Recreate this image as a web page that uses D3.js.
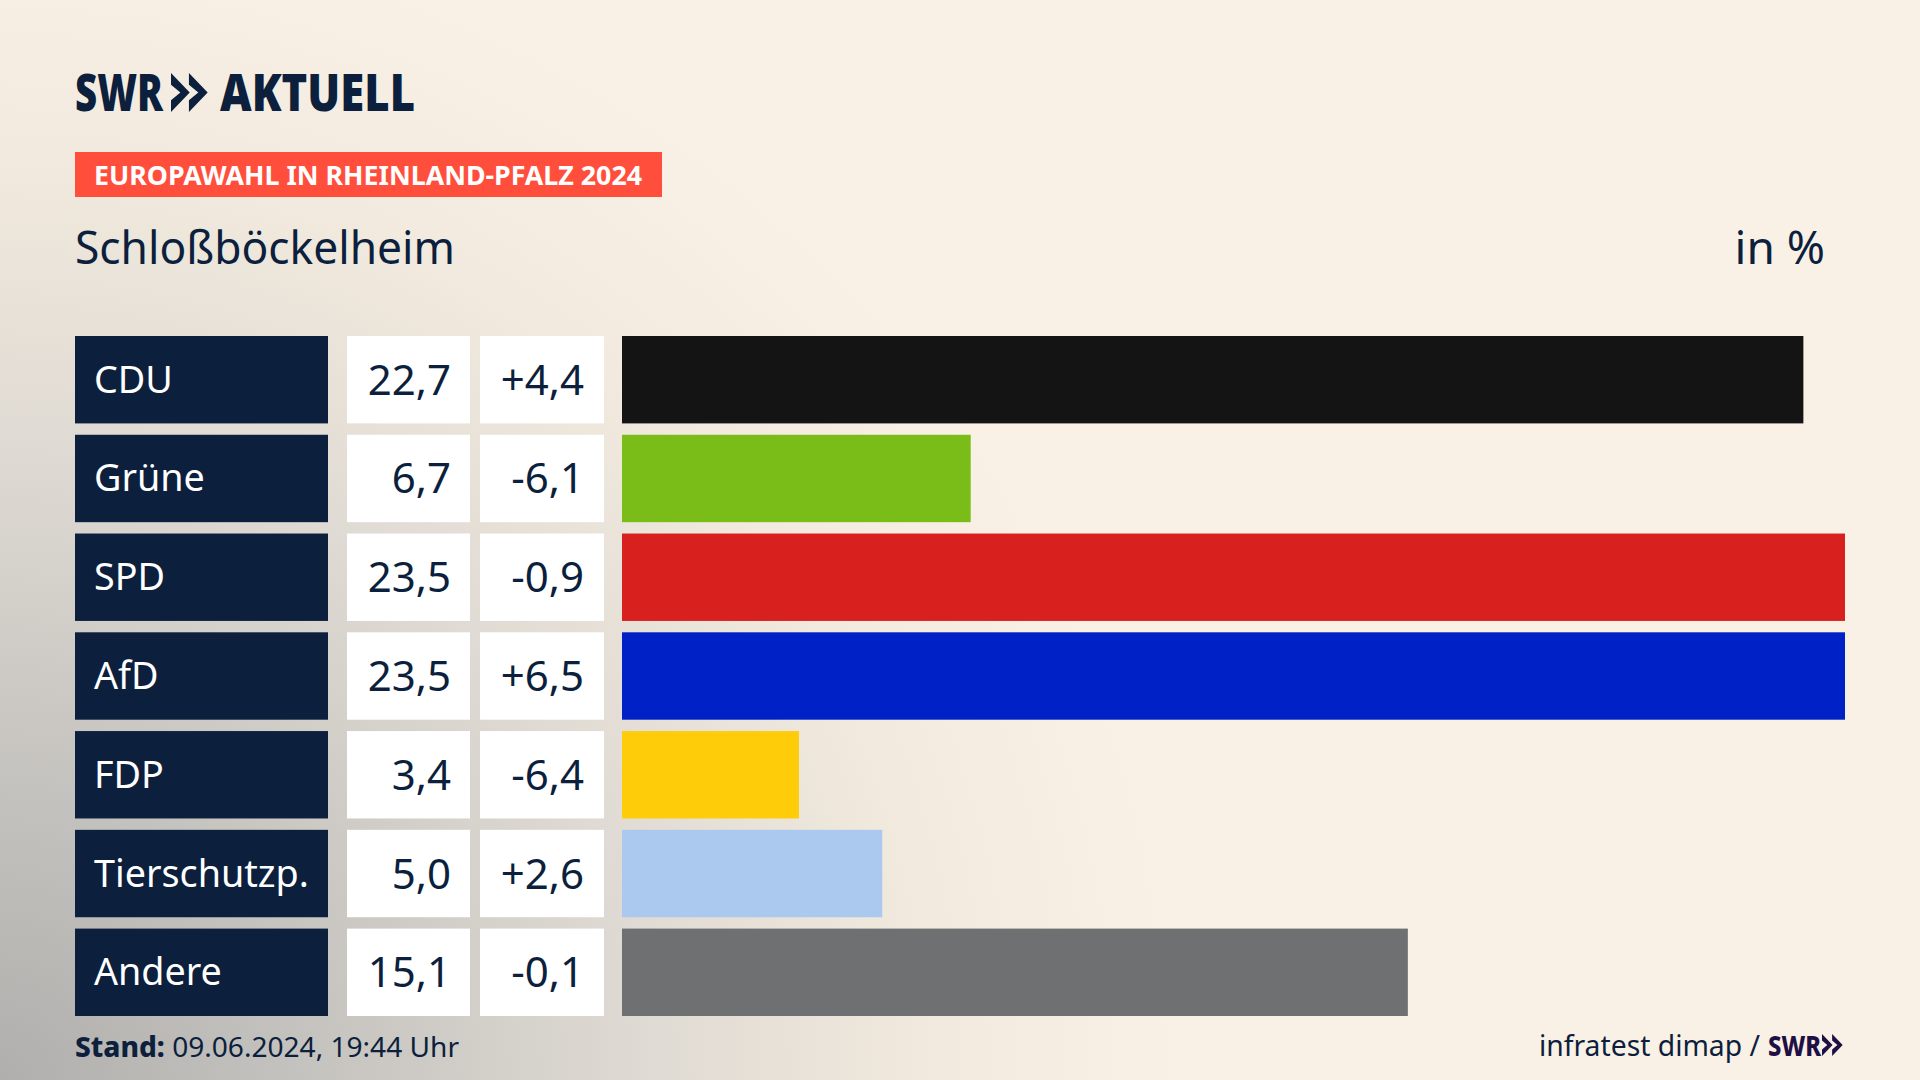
<!DOCTYPE html>
<html>
<head>
<meta charset="utf-8">
<script src="https://cdn.jsdelivr.net/npm/d3@7/dist/d3.min.js"></script>
<style>
  html, body { margin: 0; padding: 0; background: #faf1e6; }
  svg { display: block; }
  text { font-family: "Noto Sans", Lato, sans-serif; fill: #0c1f3d; }
</style>
</head>
<body>
<svg id="chart"></svg>
<script>
// Define data
const parties = ['CDU', 'Grüne', 'SPD', 'AfD', 'FDP', 'Tierschutzp.', 'Andere'];
const shares = [22.7, 6.7, 23.5, 23.5, 3.4, 5.0, 15.1];
const changes = [4.4, -6.1, -0.9, 6.5, -6.4, 2.6, -0.1];
const barColors = ['#141414', '#7abd19', '#d8201e', '#0021c6', '#ffcc09', '#abc8ee', '#6f7072'];

const width = 1920, height = 1080;
const navy = '#0c1f3d';

const svg = d3.select('#chart')
  .attr('width', width)
  .attr('height', height);

// Background with grey corner
const defs = svg.append('defs');
const grad = defs.append('radialGradient')
  .attr('id', 'bg')
  .attr('gradientUnits', 'userSpaceOnUse')
  .attr('cx', 0).attr('cy', 0).attr('r', 1)
  .attr('gradientTransform', 'translate(0,1080) scale(1180,1160)');
[[0, '#b0afad'], [0.25, '#c4c2be'], [0.55, '#dfdad3'], [0.8, '#f2eade'], [1, '#faf1e6']].forEach(s => {
  grad.append('stop').attr('offset', s[0]).attr('stop-color', s[1]);
});
svg.append('rect').attr('width', width).attr('height', height).attr('fill', '#faf1e6');
svg.append('rect').attr('width', width).attr('height', height).attr('fill', 'url(#bg)');

// Scales
const y = d3.scaleBand().domain(parties).range([336, 1016]).paddingInner(0.115);
const x = d3.scaleLinear().domain([0, 23.5]).range([622, 1845]);
const fmt = v => v.toFixed(1).replace('.', ',');
const fmtChange = v => (v > 0 ? '+' : '-') + fmt(Math.abs(v));

// Squeezes a text to the width it has in the picture
function fit(sel, w) {
  return sel.attr('textLength', w).attr('lengthAdjust', 'spacingAndGlyphs');
}

// Logo chevrons
function chevrons(x0, y0, h, color) {
  const w = h * 0.48;
  const step = h * 0.46;
  [0, step].forEach(dx => {
    svg.append('polygon')
      .attr('transform', `translate(${x0 + dx},${y0})`)
      .attr('points', [[0, 0], [w, h / 2], [0, h], [0, h * 0.7], [w * 0.5, h / 2], [0, h * 0.3]].join(' '))
      .attr('fill', color);
  });
}

// Header
fit(svg.append('text').attr('x', 75).attr('y', 111).attr('font-size', 52).attr('font-weight', 900).text('SWR'), 88);
chevrons(171, 73, 39, navy);
fit(svg.append('text').attr('x', 220).attr('y', 111).attr('font-size', 52).attr('font-weight', 900).text('AKTUELL'), 195);

svg.append('rect').attr('x', 75).attr('y', 152).attr('width', 587).attr('height', 45).attr('fill', '#ff4f3c');
fit(svg.append('text').attr('x', 94).attr('y', 185).attr('font-size', 27).attr('font-weight', 700)
  .style('fill', '#fff').text('EUROPAWAHL IN RHEINLAND-PFALZ 2024'), 548);

fit(svg.append('text').attr('x', 75).attr('y', 264).attr('font-size', 45).text('Schloßböckelheim'), 380);
svg.append('text').attr('x', 1825).attr('y', 264).attr('font-size', 46).attr('text-anchor', 'end').text('in %');

// Rows
const rows = svg.selectAll('g.row')
  .data(parties)
  .enter()
  .append('g')
  .attr('class', 'row')
  .attr('transform', d => `translate(0,${y(d)})`);

const h = y.bandwidth();
const midY = h / 2 + 13;

rows.append('rect').attr('x', 75).attr('width', 253).attr('height', h).attr('fill', navy);
rows.append('text')
  .attr('x', 94).attr('y', midY).attr('font-size', 37.7)
  .style('fill', '#fff')
  .text(d => d);

rows.append('rect').attr('x', 347).attr('width', 123).attr('height', h).attr('fill', '#fff');
rows.append('text')
  .attr('x', 451).attr('y', midY + 2).attr('font-size', 42).attr('text-anchor', 'end')
  .text((d, i) => fmt(shares[i]));

rows.append('rect').attr('x', 480).attr('width', 124).attr('height', h).attr('fill', '#fff');
rows.append('text')
  .attr('x', 584).attr('y', midY + 2).attr('font-size', 42).attr('text-anchor', 'end')
  .text((d, i) => fmtChange(changes[i]));

rows.append('rect')
  .attr('x', x(0))
  .attr('width', (d, i) => x(shares[i]) - x(0))
  .attr('height', h)
  .attr('fill', (d, i) => barColors[i]);

// Footer
const stand = svg.append('text').attr('x', 75).attr('y', 1057).attr('font-size', 28);
stand.append('tspan').attr('font-weight', 800).text('Stand: ');
stand.append('tspan').text('09.06.2024, 19:44 Uhr');
fit(stand, 384);

fit(svg.append('text').attr('x', 1539).attr('y', 1056).attr('font-size', 29).text('infratest dimap /'), 221);
fit(svg.append('text').attr('x', 1768).attr('y', 1056).attr('font-size', 28).attr('font-weight', 800)
  .style('fill', '#1e0f45').text('SWR'), 53);
chevrons(1822, 1034, 22, '#1e0f45');
</script>
</body>
</html>
